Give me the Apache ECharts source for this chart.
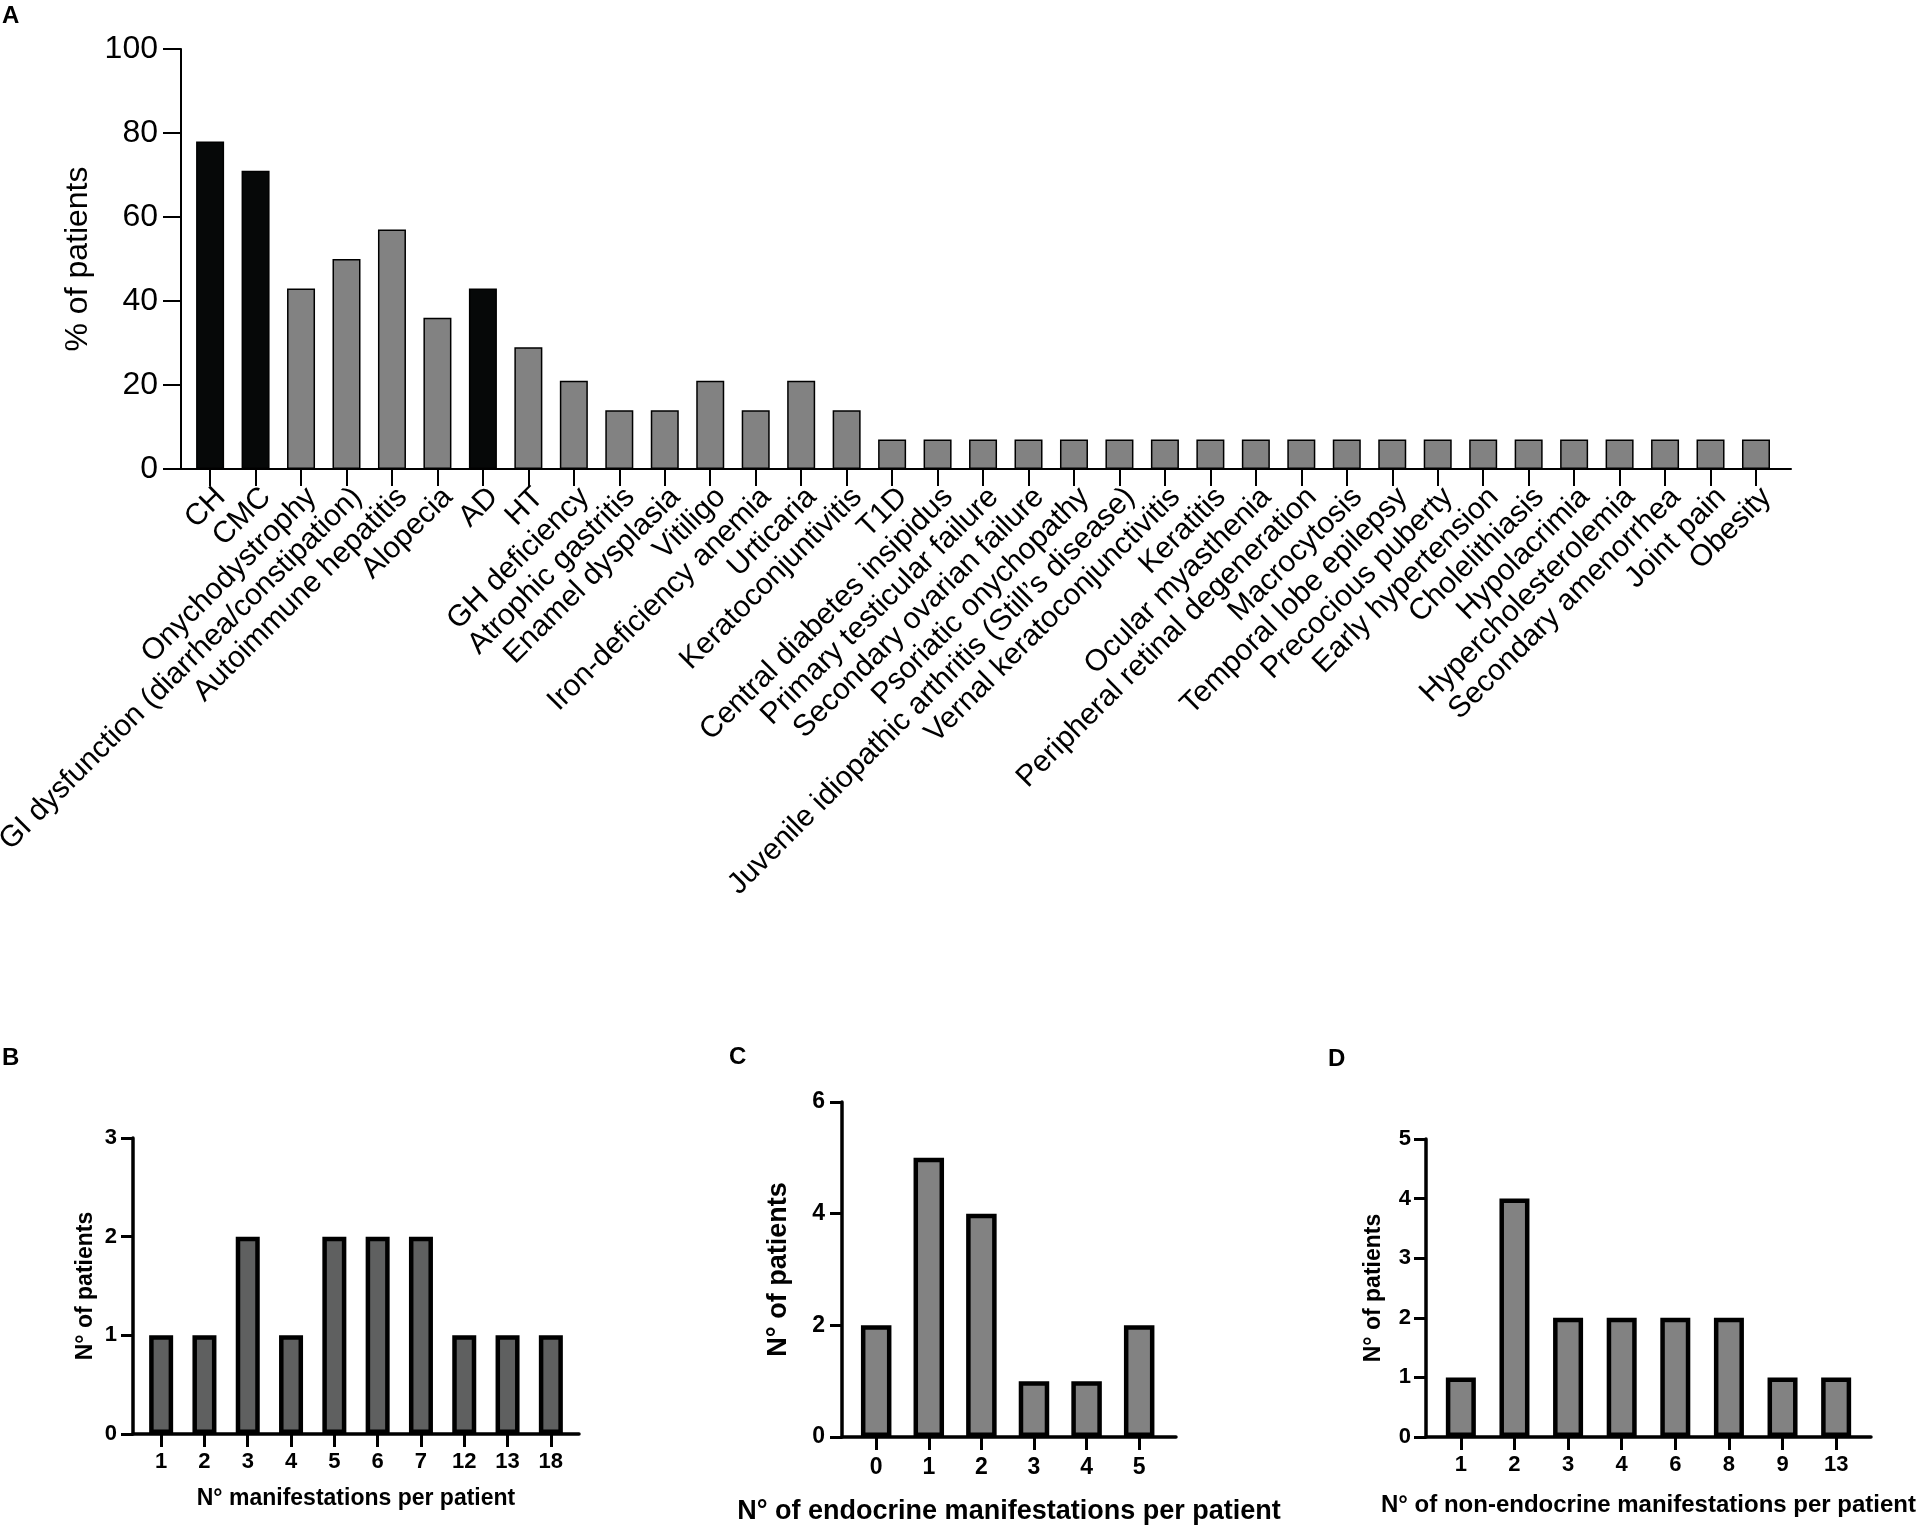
<!DOCTYPE html>
<html>
<head>
<meta charset="utf-8">
<script src="https://cdn.jsdelivr.net/npm/echarts@6/dist/echarts.min.js"></script>
<style>
  html, body { margin: 0; padding: 0; background: #fff; }
  #chart { width: 1917px; height: 1528px; }
</style>
</head>
<body>
<div id="chart"></div>
<script>
// panel A: % of patients with each manifestation
const manifestations = [
  'CH', 'CMC', 'Onychodystrophy', 'GI dysfunction (diarrhea/constipation)', 'Autoimmune hepatitis',
  'Alopecia', 'AD', 'HT', 'GH deficiency', 'Atrophic gastritis', 'Enamel dysplasia', 'Vitiligo',
  'Iron-deficiency anemia', 'Urticaria', 'Keratoconjuntivitis', 'T1D', 'Central diabetes insipidus',
  'Primary testicular failure', 'Secondary ovarian failure', 'Psoriatic onychopathy',
  'Juvenile idiopathic arthritis (Still\u2019s disease)', 'Vernal keratoconjunctivitis', 'Keratitis',
  'Ocular myasthenia', 'Peripheral retinal degeneration', 'Macrocytosis', 'Temporal lobe epilepsy',
  'Precocious puberty', 'Early hypertension', 'Cholelithiasis', 'Hypolacrimia',
  'Hypercholesterolemia', 'Secondary amenorrhea', 'Joint pain', 'Obesity'
];
const pctPatients = [
  78, 71, 43, 50, 57, 36, 43, 29, 21, 14, 14, 21, 14, 21, 14,
  7, 7, 7, 7, 7, 7, 7, 7, 7, 7, 7, 7, 7, 7, 7, 7, 7, 7, 7, 7
];
const classicTriad = ['CH', 'CMC', 'AD'];

// panel B
const totalCounts = ['1', '2', '3', '4', '5', '6', '7', '12', '13', '18'];
const totalPatients = [1, 1, 2, 1, 2, 2, 2, 1, 1, 1];
// panel C
const endoCounts = ['0', '1', '2', '3', '4', '5'];
const endoPatients = [2, 5, 4, 1, 1, 2];
// panel D
const nonEndoCounts = ['1', '2', '3', '4', '6', '8', '9', '13'];
const nonEndoPatients = [1, 4, 2, 2, 2, 2, 1, 1];

const FONT = '"Liberation Sans", Arial, Helvetica, sans-serif';
const idx = n => Array.from({length: n}, (_, i) => i);

const chart = echarts.init(document.getElementById('chart'));

const grids = [
  {left: 181, top: 49, width: 1610, height: 420},
  {left: 133, top: 1138, width: 446, height: 296},
  {left: 842, top: 1102, width: 334, height: 335},
  {left: 1426, top: 1139, width: 445, height: 298}
].map(g => Object.assign({outerBoundsMode: 'none', containLabel: false}, g));

function smallX(gi, labels, name, o) {
  const ticks = idx(labels.length);
  return {
    type: 'value', gridIndex: gi, min: -0.65, max: labels.length - 1 + o.rightPad,
    name: name, nameLocation: 'middle', nameGap: o.nameGap,
    nameTextStyle: {fontFamily: FONT, fontWeight: 'bold', fontSize: o.nameSize, color: '#000'},
    axisLine: {show: true, onZero: false, lineStyle: {color: '#000', width: 3.5}},
    splitLine: {show: false},
    axisTick: {show: true, customValues: ticks, length: 13, lineStyle: {color: '#000', width: 3}},
    axisLabel: {
      customValues: ticks, formatter: v => labels[Math.round(v)], margin: o.labelMargin,
      fontFamily: FONT, fontWeight: 'bold', fontSize: o.labelSize, color: '#000'
    }
  };
}

function smallY(gi, max, interval, o) {
  return {
    type: 'value', gridIndex: gi, min: 0, max: max, interval: interval,
    name: 'N\u00b0 of patients', nameLocation: 'middle', nameGap: o.nameGap,
    nameTextStyle: {fontFamily: FONT, fontWeight: 'bold', fontSize: o.nameSize, color: '#000'},
    axisLine: {show: true, onZero: false, lineStyle: {color: '#000', width: 3.5}},
    splitLine: {show: false},
    axisTick: {show: true, length: 12, lineStyle: {color: '#000', width: 3}},
    axisLabel: {margin: o.labelMargin, fontFamily: FONT, fontWeight: 'bold', fontSize: o.labelSize, color: '#000'}
  };
}

function smallBars(gi, values, color, width) {
  return {
    type: 'bar', xAxisIndex: gi, yAxisIndex: gi, barWidth: width,
    data: values.map((v, i) => [i, v]),
    itemStyle: {color: color, borderColor: '#000', borderWidth: 4.5},
    emphasis: {disabled: true}
  };
}

const panelLetter = (txt, left, top) => ({
  type: 'text', left: left, top: top,
  style: {text: txt, fontFamily: FONT, fontWeight: 'bold', fontSize: 24, fill: '#000'}
});

chart.setOption({
  animation: false,
  backgroundColor: '#fff',
  grid: grids,
  xAxis: [
    {
      type: 'value', gridIndex: 0, min: -0.64, max: 34.77,
      axisLine: {show: true, onZero: false, lineStyle: {color: '#000', width: 2}},
      splitLine: {show: false},
      axisTick: {show: true, customValues: idx(manifestations.length), length: 17, lineStyle: {color: '#000', width: 2}},
      axisLabel: {
        customValues: idx(manifestations.length), formatter: v => manifestations[Math.round(v)],
        rotate: 45, margin: 13, verticalAlign: 'top', fontFamily: FONT, fontSize: 30, color: '#000'
      }
    },
    smallX(1, totalCounts, 'N\u00b0 manifestations per patient',
      {rightPad: 0.65, nameGap: 53, nameSize: 23, labelMargin: 17, labelSize: 22}),
    smallX(2, endoCounts, 'N\u00b0 of endocrine manifestations per patient',
      {rightPad: 0.7, nameGap: 61, nameSize: 27, labelMargin: 19, labelSize: 23}),
    smallX(3, nonEndoCounts, 'N\u00b0 of non-endocrine manifestations per patient',
      {rightPad: 0.65, nameGap: 56, nameSize: 24, labelMargin: 17, labelSize: 22})
  ],
  yAxis: [
    {
      type: 'value', gridIndex: 0, min: 0, max: 100, interval: 20,
      name: '% of patients', nameLocation: 'middle', nameGap: 87,
      nameTextStyle: {fontFamily: FONT, fontSize: 32, color: '#000'},
      axisLine: {show: true, onZero: false, lineStyle: {color: '#000', width: 2}},
      splitLine: {show: false},
      axisTick: {show: true, length: 18, lineStyle: {color: '#000', width: 2}},
      axisLabel: {margin: 23, fontFamily: FONT, fontSize: 32, color: '#000'}
    },
    smallY(1, 3, 1, {nameGap: 36, nameSize: 23, labelMargin: 16, labelSize: 22}),
    smallY(2, 6, 2, {nameGap: 50, nameSize: 27, labelMargin: 17, labelSize: 23}),
    smallY(3, 5, 1, {nameGap: 41, nameSize: 23, labelMargin: 15, labelSize: 22})
  ],
  series: [
    {
      type: 'bar', xAxisIndex: 0, yAxisIndex: 0, barWidth: 28,
      data: pctPatients.map((v, i) => ({
        value: [i, v],
        itemStyle: classicTriad.includes(manifestations[i]) ? {color: '#060808'} : undefined
      })),
      itemStyle: {color: '#828282', borderColor: '#000', borderWidth: 1.5},
      emphasis: {disabled: true}
    },
    smallBars(1, totalPatients, '#5f6060', 24),
    smallBars(2, endoPatients, '#828282', 30.5),
    smallBars(3, nonEndoPatients, '#828282', 30)
  ],
  graphic: [
    panelLetter('A', 2, 4),
    panelLetter('B', 2, 1046),
    panelLetter('C', 729, 1045),
    panelLetter('D', 1328, 1047)
  ]
});
</script>
</body>
</html>
